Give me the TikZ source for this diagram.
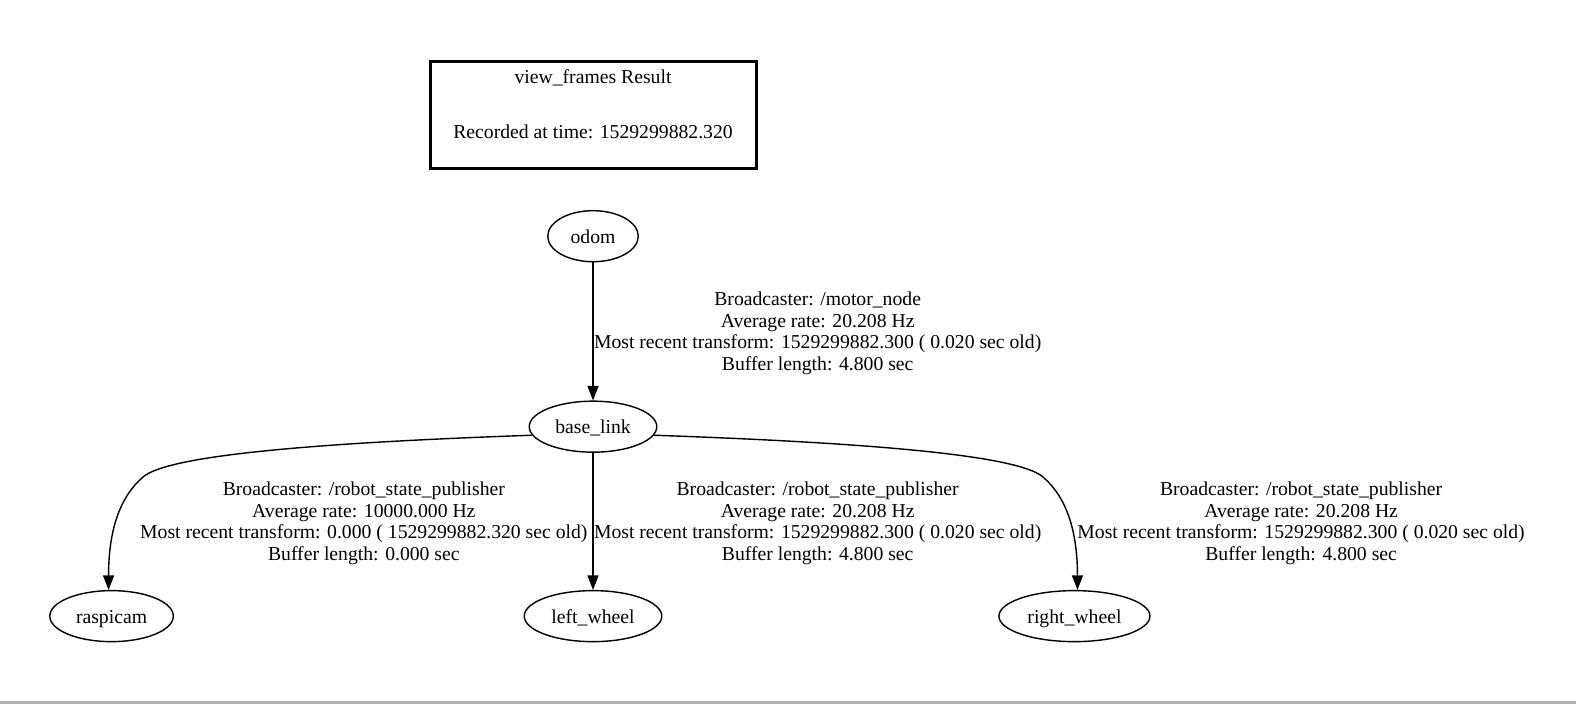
\documentclass[tikz,border=0pt]{standalone}
\usepackage{fontspec}
\setmainfont{Liberation Serif}
\usetikzlibrary{arrows.meta, shapes.geometric}
\tikzset{
  font=\fontsize{11.2}{12.2}\selectfont,
  >={Triangle[length=0.29cm, width=0.22cm]},
  %
  frame/.style={ellipse, draw, line width=0.8pt, inner sep=0pt,
                minimum height=1.02cm, text height=8.3pt, text depth=0pt},
  titlebox/.style={draw, line width=1.7pt, inner sep=0pt,
                   minimum width=6.5cm, minimum height=2.15cm},
  %
  tf/.style={draw, line width=0.8pt, ->},
  lbl/.style={align=center, inner sep=0pt},
}

\begin{document}
\begin{tikzpicture}[x=0.0201cm, y=-0.0201cm]
\useasboundingbox (0,0) rectangle (1568,700);

% =========================================================================
% result box
% =========================================================================
\node[titlebox] (result) at (590.5,114.5) {};
\node[lbl] (rtitle) at (590,77) {view\_frames Result};
\node[lbl] (rtime) at (590,131) {Recorded at time: 1529299882.320};

% =========================================================================
% frames
% =========================================================================
\node[frame, minimum width=1.81cm] (odom)  at (590,235)  {odom};
\node[frame, minimum width=2.55cm] (base)  at (590,424.5){base\_link};
\node[frame, minimum width=2.47cm] (cam)   at (111,613)  {raspicam};
\node[frame, minimum width=2.75cm] (left)  at (590,613)  {left\_wheel};
\node[frame, minimum width=3.02cm] (right) at (1069,613) {right\_wheel};

% =========================================================================
% transforms
% =========================================================================
\draw[tf] (odom) -- (base);
\draw[tf] (base) -- (left);
\draw[tf] (base.188) .. controls (300,441) and (168,454) .. (143,474)
  .. controls (118,495) and (108,530) .. ([xshift=-0.06cm]cam.north);
\draw[tf] (base.352) .. controls (880,441) and (1012,454) .. (1037,474)
  .. controls (1062,495) and (1072,530) .. ([xshift=0.06cm]right.north);

% the labels
\node[lbl] (lodom) at (813.5,331.5) {Broadcaster: /motor\_node\\
  Average rate: 20.208 Hz\\
  Most recent transform: 1529299882.300 ( 0.020 sec old)\\
  Buffer length: 4.800 sec};
\node[lbl] (lcam) at (362,520.5) {Broadcaster: /robot\_state\_publisher\\
  Average rate: 10000.000 Hz\\
  Most recent transform: 0.000 ( 1529299882.320 sec old)\\
  Buffer length: 0.000 sec};
\node[lbl] (lleft) at (813.5,520.5) {Broadcaster: /robot\_state\_publisher\\
  Average rate: 20.208 Hz\\
  Most recent transform: 1529299882.300 ( 0.020 sec old)\\
  Buffer length: 4.800 sec};
\node[lbl] (lright) at (1294.5,520.5) {Broadcaster: /robot\_state\_publisher\\
  Average rate: 20.208 Hz\\
  Most recent transform: 1529299882.300 ( 0.020 sec old)\\
  Buffer length: 4.800 sec};

% page edge
\fill[gray!60] (0,697) rectangle (1568,700);
\end{tikzpicture}
\end{document}
